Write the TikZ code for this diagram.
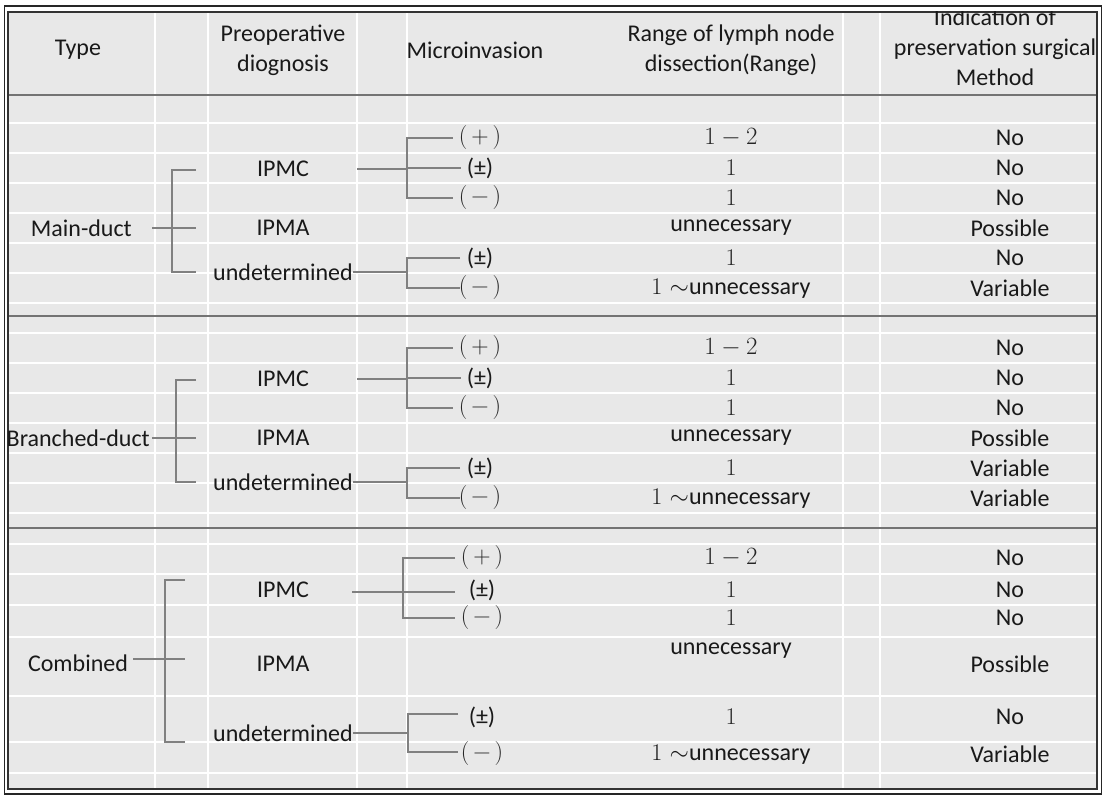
\documentclass[tikz,border=0pt]{standalone}
\usepackage{fontspec}
\setmainfont{Carlito}
\newfontfamily\lmr{Latin Modern Roman}
\begin{document}
\begin{tikzpicture}[x=1pt,y=-1pt,
  txt/.style={font=\fontsize{24}{30}\selectfont,text=black!90,inner sep=0pt,align=center},
  num/.style={font=\lmr\fontsize{24}{30}\selectfont,text=black!85,inner sep=0pt},
  br/.style={draw=black!50,line width=1.8pt},
  grid/.style={draw=white,line width=1.3pt},
  sep/.style={draw=black!55,line width=2pt}]
\useasboundingbox (0,0) rectangle (1106,800);
\fill[white] (0,0) rectangle (1106,800);
\fill[black!9] (8,12) rectangle (1097,789);
% grid lines
\foreach \x in {155,208,357,407,843,880} \draw[grid] (\x,12) -- (\x,789);
\foreach \y in {123,153,183,213,243,273,303,333,363,393,423,453,483,513,544,574,605,637,696,742,773}
  \draw[grid] (8,\y) -- (1097,\y);
\draw[sep] (8,95) -- (1097,95);
\draw[sep] (8,316) -- (1097,316);
\draw[sep] (8,528) -- (1097,528);
% frame
\draw[black!85,line width=1.6pt] (4.5,6) rectangle (1101.5,794);
\draw[black!80,line width=1.4pt] (8,12) rectangle (1097,789);
% header
\node[txt] (h1) at (78,50) {Type};
\node[txt] (h2) at (283,50) {Preoperative\\diognosis};
\node[txt] (h3) at (475,50) {Microinvasion};
\node[txt] (h4) at (731,50) {Range of lymph node\\dissection(Range)};
\begin{scope}
\clip (8,12) rectangle (1097,95);
\node[txt] (h5) at (995,47) {Indication of\\preservation surgical\\Method};
\end{scope}
% sections 1 and 2
\foreach \o/\ty/\tx/\bx/\ra in {0/Main-duct/132/172/No,210/Branched-duct/150/176/Variable}{
  \begin{scope}[yshift=-\o pt]
  \node[txt,anchor=east] (t\o) at (\tx,228) {\ty};
  \node[txt] (c\o) at (283,169) {IPMC};
  \node[txt] (a\o) at (283,228) {IPMA};
  \node[txt] (u\o) at (283,272) {undetermined};
  \coordinate (s\o) at (152,228);
  \draw[br] (s\o) -- (196,228);
  \draw[br] (196,170) -| (\bx,272) -- (196,272);
  \node[num] (p1\o) at (480,138) {(\,+\,)};
  \node[txt] (p2\o) at (480,168) {(±)};
  \node[num] (p3\o) at (480,198) {(\,−\,)};
  \node[txt] (p4\o) at (480,258) {(±)};
  \node[num] (p5\o) at (480,288) {(\,−\,)};
  \draw[br] (c\o.east -| 357,0) -- (407,169);
  \draw[br] (p1\o.west) ++(-6,0) -| (407,198) -- ([xshift=-6pt]p3\o.west);
  \draw[br] (407,168) -- ([xshift=-6pt]p2\o.west);
  \draw[br] (u\o.east) -- (407,272);
  \draw[br] (460,258) -| (407,288) -- (460,288);
  \node[num] (r1\o) at (731,138) {$1-2$};
  \node[num] (r2\o) at (731,168) {1};
  \node[num] (r3\o) at (731,198) {1};
  \node[txt] (r4\o) at (731,228) {unnecessary};
  \node[num] (r5\o) at (731,258) {1};
  \node[txt] (r6\o) at (731,288) {{\lmr 1 $\sim$}unnecessary};
  \node[txt] (i1\o) at (1010,138) {No};
  \node[txt] (i2\o) at (1010,168) {No};
  \node[txt] (i3\o) at (1010,198) {No};
  \node[txt] (i4\o) at (1010,228) {Possible};
  \node[txt] (i5\o) at (1010,258) {\ra};
  \node[txt] (i6\o) at (1010,288) {Variable};
  \end{scope}}
% section 3
\node[txt] (t3) at (78,663) {Combined};
\node[txt] (c3) at (283,590) {IPMC};
\node[txt] (a3) at (283,664) {IPMA};
\node[txt] (u3) at (283,733) {undetermined};
\draw[br] (133,659) -- (185,659);
\draw[br] (185,580) -| (165,742) -- (185,742);
\node[num] (q1) at (482,558) {(\,+\,)};
\node[txt] (q2) at (482,590) {(±)};
\node[num] (q3) at (482,618) {(\,−\,)};
\node[txt] (q4) at (482,717) {(±)};
\node[num] (q5) at (482,754) {(\,−\,)};
\draw[br] (352,592) -- (455,592);
\draw[br] (455,558) -| (403,618) -- (455,618);
\draw[br] (u3.east) -- (408,733);
\draw[br] (458,714) -| (408,752) -- (458,752);
\node[num] (s1) at (731,558) {$1-2$};
\node[num] (s2) at (731,590) {1};
\node[num] (s3) at (731,618) {1};
\node[txt] (s4) at (731,651) {unnecessary};
\node[num] (s5) at (731,717) {1};
\node[txt] (s6) at (731,754) {{\lmr 1 $\sim$}unnecessary};
\node[txt] (j1) at (1010,558) {No};
\node[txt] (j2) at (1010,590) {No};
\node[txt] (j3) at (1010,618) {No};
\node[txt] (j4) at (1010,664) {Possible};
\node[txt] (j5) at (1010,717) {No};
\node[txt] (j6) at (1010,754) {Variable};
\end{tikzpicture}
\end{document}
